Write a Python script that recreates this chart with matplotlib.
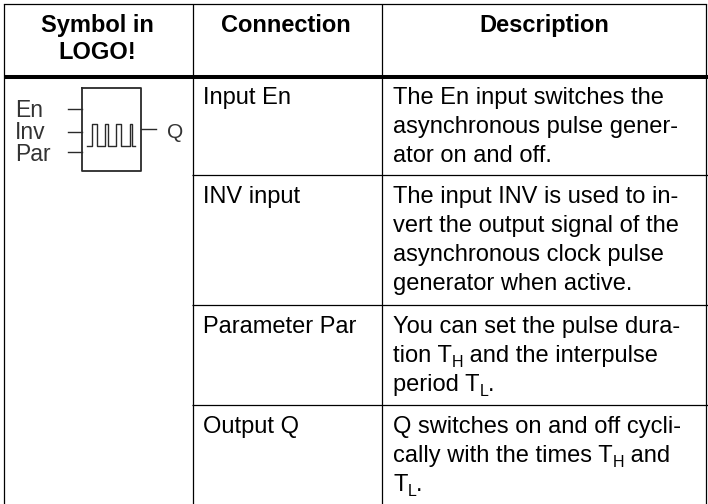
#!/usr/bin/env python3
"""LOGO! asynchronous pulse generator table"""

import re
import matplotlib
matplotlib.use('Agg')
import matplotlib.pyplot as plt

plt.rcParams['font.family'] = ['Liberation Sans', 'DejaVu Sans']

headers = ["Symbol in", "LOGO!", "Connection", "Description"]
connections = ["Input En", "INV input", "Parameter Par", "Output Q"]
descriptions = [
    ["The En input switches the", "asynchronous pulse gener-", "ator on and off."],
    ["The input INV is used to in-", "vert the output signal of the", "asynchronous clock pulse", "generator when active."],
    ["You can set the pulse dura-", "tion T_H and the interpulse", "period T_L."],
    ["Q switches on and off cycli-", "cally with the times T_H and", "T_L."],
]
symbol_inputs = ["En", "Inv", "Par"]
symbol_output = "Q"
pulse_x = [87, 92, 92, 97, 97, 105, 105, 108, 108, 116, 116, 121, 121, 130, 130, 132, 132, 135]
pulse_y = [146, 146, 124, 124, 146, 146, 124, 124, 146, 146, 124, 124, 146, 146, 124, 124, 146, 146]

col_x = [4, 193, 382, 706.3]
top_y = 3.5
header_y = 77
row_lines = [175, 305, 405]
baselines = [104, 203, 333, 433]
FS = 17
LINE = 28.9

fig = plt.figure(figsize=(7.08, 5.04), dpi=100)
ax = fig.add_axes([0, 0, 1, 1])
ax.set_xlim(0, 708)
ax.set_ylim(504, 0)
ax.axis('off')
renderer = fig.canvas.get_renderer()


def text_width(s, size):
    # 末尾空格量不准,加一个竖线再减掉
    probe = ax.text(0, 0, s + "|", fontsize=size)
    bar = ax.text(0, 0, "|", fontsize=size)
    w = probe.get_window_extent(renderer).width - bar.get_window_extent(renderer).width
    probe.remove()
    bar.remove()
    return w


def draw_line(x, y, line):
    # T_H / T_L 的下标单独画
    parts = re.split(r'_([HL])', line)
    for i, part in enumerate(parts):
        if not part:
            continue
        if i % 2 == 0:
            ax.text(x, y, part, ha='left', va='baseline', fontsize=FS)
            x += text_width(part, FS)
        else:
            ax.text(x, y + 5, part, ha='left', va='baseline', fontsize=FS * 0.68)
            x += text_width(part, FS * 0.68)


# 表格线
for x in col_x:
    ax.plot([x, x], [top_y, 504], color='black', lw=0.9, solid_capstyle='butt')
ax.plot([col_x[0], col_x[-1]], [top_y, top_y], color='black', lw=0.9)
ax.plot([col_x[0], 708], [header_y, header_y], color='black', lw=2.9, solid_capstyle='butt')
for y in row_lines:
    ax.plot([col_x[1] - 1, 708], [y, y], color='black', lw=0.9, solid_capstyle='butt')

# 表头
ax.text(97, 32, headers[0], ha='center', va='baseline', fontsize=FS, fontweight='bold')
ax.text(97, 59, headers[1], ha='center', va='baseline', fontsize=FS, fontweight='bold')
ax.text(286, 32, headers[2], ha='center', va='baseline', fontsize=FS, fontweight='bold')
ax.text(544, 32, headers[3], ha='center', va='baseline', fontsize=FS, fontweight='bold')

# 内容
for i, name in enumerate(connections):
    y = baselines[i]
    ax.text(203, y, name, ha='left', va='baseline', fontsize=FS)
    for j, line in enumerate(descriptions[i]):
        draw_line(393, y + j * LINE, line)

# 功能块符号
box_color = '#2a2a2a'
ax.plot([82, 141, 141, 82, 82], [88, 88, 171, 171, 88], color=box_color, lw=1.3)
for y, ly, label in zip([109, 132, 152], [117, 139, 161], symbol_inputs):
    ax.plot([68, 82], [y, y], color=box_color, lw=1.0)
    ax.text(15, ly, label, ha='left', va='baseline', fontsize=16.5, color='#333333')
ax.plot([141, 156], [129, 129], color=box_color, lw=1.0)
ax.text(175, 138, symbol_output, ha='center', va='baseline', fontsize=15, color='#333333')
ax.plot(pulse_x, pulse_y, color=box_color, lw=1.0)

fig.savefig('out.png', dpi=100)
